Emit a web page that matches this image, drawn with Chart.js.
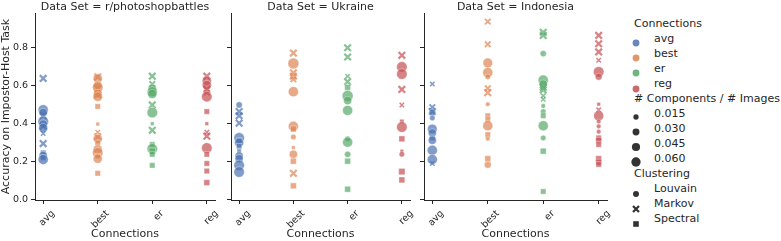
<!DOCTYPE html>
<html>
<head>
<meta charset="utf-8">
<script src="https://cdn.jsdelivr.net/npm/chart.js@4.4.1/dist/chart.umd.min.js"></script>
<style>
    body { margin: 0; background: #fff; font-family: "DejaVu Sans", sans-serif; color: #262626; }
    #wrap { position: relative; width: 781px; height: 241px; overflow: hidden; }
    canvas { position: absolute; top: 0; }
    .lg { position: absolute; font-size: 11px; line-height: 13px; white-space: nowrap; }
    .mk { position: absolute; }
</style>
</head>
<body>
<div id="wrap">
    <canvas id="c0" width="222" height="241" style="left:0px"></canvas>
    <canvas id="c1" width="195" height="241" style="left:222px"></canvas>
    <canvas id="c2" width="197" height="241" style="left:417px"></canvas>
    <div id="legend"></div>
</div>
<script>
// categories / facets
const categories = ['avg', 'best', 'er', 'reg'];
const dataSets = ['r/photoshopbattles', 'Ukraine', 'Indonesia'];
const yTicks = [0.0, 0.2, 0.4, 0.6, 0.8];
const sizeLevels = [0.015, 0.030, 0.045, 0.060];
const clusterings = ['Louvain', 'Markov', 'Spectral'];

// [accuracy, components/images, clustering]  L = Louvain, M = Markov, S = Spectral
const psbAvg = [[0.637,0.03,'M'],[0.471,0.05,'L'],[0.457,0.03,'L'],[0.44,0.03,'M'],[0.41,0.055,'L'],[0.396,0.03,'L'],[0.384,0.03,'M'],[0.375,0.04,'L'],[0.346,0.01,'M'],[0.293,0.03,'M'],[0.244,0.02,'S'],[0.23,0.03,'L'],[0.218,0.02,'S'],[0.209,0.05,'L']];
const psbBest = [[0.645,0.03,'M'],[0.637,0.04,'L'],[0.602,0.03,'L'],[0.59,0.055,'L'],[0.585,0.03,'M'],[0.558,0.03,'L'],[0.55,0.03,'M'],[0.541,0.045,'L'],[0.489,0.02,'S'],[0.396,0.005,'S'],[0.353,0.01,'M'],[0.328,0.03,'M'],[0.318,0.04,'L'],[0.297,0.02,'S'],[0.262,0.04,'L'],[0.244,0.055,'L'],[0.227,0.02,'S'],[0.213,0.04,'L'],[0.136,0.02,'S']];
const psbEr = [[0.649,0.03,'M'],[0.607,0.02,'M'],[0.585,0.03,'L'],[0.567,0.05,'L'],[0.555,0.04,'L'],[0.497,0.03,'M'],[0.457,0.055,'L'],[0.398,0.005,'S'],[0.363,0.03,'M'],[0.288,0.02,'S'],[0.265,0.055,'L'],[0.253,0.03,'S'],[0.236,0.02,'S'],[0.178,0.02,'S']];
const psbReg = [[0.649,0.03,'M'],[0.625,0.04,'L'],[0.602,0.04,'L'],[0.579,0.03,'M'],[0.562,0.02,'M'],[0.541,0.055,'L'],[0.462,0.02,'S'],[0.398,0.005,'S'],[0.353,0.01,'M'],[0.332,0.03,'M'],[0.27,0.055,'L'],[0.236,0.02,'S'],[0.188,0.02,'S'],[0.148,0.02,'S'],[0.087,0.025,'S']];

const ukrAvg = [[0.497,0.015,'L'],[0.462,0.03,'M'],[0.44,0.03,'M'],[0.401,0.03,'M'],[0.323,0.055,'L'],[0.309,0.025,'S'],[0.297,0.04,'L'],[0.279,0.02,'S'],[0.253,0.01,'S'],[0.227,0.03,'L'],[0.213,0.03,'L'],[0.178,0.055,'L'],[0.143,0.055,'L']];
const ukrBest = [[0.771,0.03,'M'],[0.716,0.06,'L'],[0.667,0.03,'M'],[0.649,0.03,'M'],[0.632,0.02,'M'],[0.567,0.05,'L'],[0.384,0.05,'L'],[0.37,0.025,'S'],[0.328,0.01,'L'],[0.272,0.005,'S'],[0.236,0.03,'L'],[0.2,0.025,'S'],[0.136,0.03,'M'],[0.07,0.025,'S']];
const ukrEr = [[0.799,0.03,'M'],[0.75,0.03,'M'],[0.649,0.01,'M'],[0.62,0.03,'M'],[0.59,0.025,'S'],[0.545,0.06,'L'],[0.52,0.03,'L'],[0.468,0.05,'L'],[0.318,0.01,'L'],[0.3,0.05,'L'],[0.236,0.015,'L'],[0.2,0.025,'S'],[0.052,0.025,'S']];
const ukrReg = [[0.759,0.03,'M'],[0.698,0.055,'L'],[0.66,0.055,'L'],[0.579,0.03,'M'],[0.497,0.01,'M'],[0.41,0.01,'S'],[0.38,0.055,'L'],[0.318,0.025,'S'],[0.253,0.005,'S'],[0.236,0.01,'L'],[0.145,0.03,'S'],[0.101,0.025,'S']];

const indAvg = [[0.607,0.01,'M'],[0.485,0.02,'M'],[0.462,0.03,'M'],[0.457,0.02,'L'],[0.428,0.01,'L'],[0.37,0.045,'L'],[0.349,0.03,'L'],[0.323,0.02,'S'],[0.31,0.03,'L'],[0.258,0.05,'L'],[0.209,0.05,'L'],[0.188,0.01,'M']];
const indBest = [[0.937,0.02,'M'],[0.817,0.02,'M'],[0.719,0.045,'L'],[0.668,0.05,'L'],[0.646,0.01,'L'],[0.585,0.02,'M'],[0.562,0.03,'M'],[0.501,0.005,'L'],[0.44,0.02,'S'],[0.419,0.02,'S'],[0.387,0.05,'L'],[0.34,0.02,'S'],[0.319,0.005,'L'],[0.213,0.025,'S'],[0.181,0.02,'L']];
const indEr = [[0.881,0.03,'M'],[0.864,0.03,'M'],[0.768,0.015,'L'],[0.628,0.05,'L'],[0.607,0.03,'L'],[0.59,0.03,'M'],[0.576,0.03,'M'],[0.545,0.01,'M'],[0.527,0.01,'M'],[0.492,0.005,'L'],[0.462,0.01,'L'],[0.44,0.02,'S'],[0.387,0.05,'L'],[0.323,0.01,'L'],[0.253,0.025,'S'],[0.04,0.02,'S']];
const indReg = [[0.864,0.03,'M'],[0.82,0.03,'M'],[0.777,0.03,'M'],[0.733,0.01,'M'],[0.672,0.055,'L'],[0.646,0.02,'L'],[0.501,0.005,'S'],[0.471,0.01,'M'],[0.44,0.05,'L'],[0.41,0.005,'L'],[0.384,0.005,'L'],[0.356,0.005,'L'],[0.323,0.02,'S'],[0.31,0.025,'S'],[0.288,0.02,'S'],[0.213,0.025,'S'],[0.195,0.025,'S'],[0.183,0.02,'S']];

const panels = [
    [psbAvg, psbBest, psbEr, psbReg],
    [ukrAvg, ukrBest, ukrEr, ukrReg],
    [indAvg, indBest, indEr, indReg]
];

const palette = ['76,114,176', '221,132,82', '85,168,104', '196,78,82'];
const ink = '#262626';
const styleOf = { L: 'circle', M: 'crossRot', S: 'rect' };
const yAxisWidth = [35, 9, 7];

function radius(ratio) {
    return Math.sqrt(3 + ratio * 450);
}

function markerRadius(p) {
    const r = radius(p.s);
    if (p.c === 'M') return r * 1.15;
    if (p.c === 'S') return r * 1.1;
    return r;
}

function makeChart(i) {
    const first = i === 0;
    const datasets = categories.map((cat, k) => ({
        label: cat,
        data: panels[i][k].map(([acc, ratio, cl]) => ({ x: k, y: acc, s: ratio, c: cl })),
        pointStyle: ctx => styleOf[ctx.raw.c],
        pointRadius: ctx => markerRadius(ctx.raw),
        pointBackgroundColor: `rgba(${palette[k]},0.7)`,
        pointBorderColor: ctx => ctx.raw.c === 'M' ? `rgba(${palette[k]},0.7)` : 'rgba(255,255,255,0.6)',
        pointBorderWidth: ctx => ctx.raw.c === 'M' ? radius(ctx.raw.s) * 0.55 : 0.6
    }));

    new Chart(document.getElementById('c' + i), {
        type: 'scatter',
        data: { datasets },
        options: {
            responsive: false,
            animation: false,
            devicePixelRatio: 1,
            layout: { padding: { left: 0, right: 7, top: 0, bottom: 0 } },
            plugins: {
                legend: { display: false },
                tooltip: { enabled: false },
                title: {
                    display: true,
                    text: 'Data Set = ' + dataSets[i],
                    fullSize: false,
                    color: ink,
                    font: { family: 'DejaVu Sans', size: 11, weight: 'normal', lineHeight: 1.1 },
                    padding: { top: 1, bottom: 0 }
                }
            },
            scales: {
                x: {
                    type: 'linear',
                    min: -0.15,
                    max: 3.15,
                    afterBuildTicks: s => { s.ticks = categories.map((c, k) => ({ value: k })); },
                    afterFit: s => { s.height = 41; s.paddingLeft = 0; s.paddingRight = 0; },
                    ticks: {
                        callback: v => categories[v],
                        autoSkip: false,
                        minRotation: 45,
                        maxRotation: 45,
                        labelOffset: 10,
                        padding: 4,
                        color: ink,
                        font: { family: 'DejaVu Sans', size: 9.5 }
                    },
                    grid: { drawOnChartArea: false, tickLength: 4, color: ink, lineWidth: 1 },
                    border: { color: ink, width: 1 },
                    title: {
                        display: true,
                        text: 'Connections',
                        color: ink,
                        font: { family: 'DejaVu Sans', size: 11, lineHeight: 1.0 },
                        padding: { top: 0, bottom: 1 }
                    }
                },
                y: {
                    min: -0.005,
                    max: 0.982,
                    afterBuildTicks: s => { s.ticks = yTicks.map(v => ({ value: v })); },
                    afterFit: s => { s.width = yAxisWidth[i]; },
                    ticks: {
                        display: first,
                        callback: v => v.toFixed(1),
                        padding: 3,
                        color: ink,
                        font: { family: 'DejaVu Sans', size: 9.5 }
                    },
                    grid: { drawOnChartArea: false, tickLength: 4, color: ink, lineWidth: 1 },
                    border: { color: ink, width: 1 },
                    title: {
                        display: first,
                        text: 'Accuracy on Impostor-Host Task',
                        color: ink,
                        font: { family: 'DejaVu Sans', size: 11 },
                        padding: 0
                    }
                }
            }
        }
    });
}

dataSets.forEach((d, i) => makeChart(i));

// legend (html)
const legend = document.getElementById('legend');
let row = 0;
function rowY() { return 23.3 + 15.05 * row; }
function addTitle(text) {
    const d = document.createElement('div');
    d.className = 'lg';
    d.style.left = '634px';
    d.style.top = (rowY() - 6.5) + 'px';
    d.textContent = text;
    legend.appendChild(d);
    row++;
}
function addItem(text, svg, size) {
    const y = rowY();
    const m = document.createElement('div');
    m.className = 'mk';
    m.style.left = (636 - size / 2) + 'px';
    m.style.top = (y - size / 2) + 'px';
    m.innerHTML = `<svg width="${size}" height="${size}" viewBox="0 0 ${size} ${size}">${svg}</svg>`;
    legend.appendChild(m);
    const d = document.createElement('div');
    d.className = 'lg';
    d.style.left = '654px';
    d.style.top = (y - 6.5) + 'px';
    d.textContent = text;
    legend.appendChild(d);
    row++;
}

addTitle('Connections');
categories.forEach((c, k) => {
    addItem(c, `<circle cx="5" cy="5" r="3.4" fill="rgba(${palette[k]},0.85)"/>`, 10);
});
addTitle('# Components / # Images');
sizeLevels.forEach(v => {
    const r = radius(v) * 0.85;
    addItem(v.toFixed(3), `<circle cx="6" cy="6" r="${r}" fill="#333"/>`, 12);
});
addTitle('Clustering');
addItem(clusterings[0], `<circle cx="5" cy="5" r="3" fill="#333"/>`, 10);
addItem(clusterings[1], `<path d="M2,2 L8,8 M8,2 L2,8" stroke="#333" stroke-width="2.2"/>`, 10);
addItem(clusterings[2], `<rect x="2.2" y="2.2" width="5.6" height="5.6" fill="#333"/>`, 10);
</script>
</body>
</html>
